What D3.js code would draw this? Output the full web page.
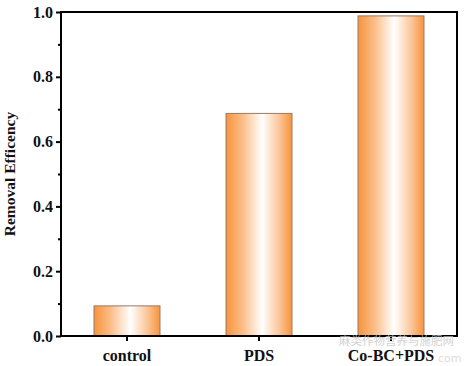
<!DOCTYPE html>
<html><head><meta charset="utf-8">
<script src="https://cdn.jsdelivr.net/npm/d3@7"></script>
<style>body{margin:0;background:#fff}svg{display:block}</style>
</head><body>
<svg id="c" width="464" height="366"></svg>
<script>
const categories = ["control", "PDS", "Co-BC+PDS"];
const values = [0.093, 0.687, 0.988];
const yTicks = [0.0, 0.2, 0.4, 0.6, 0.8, 1.0];
const yMinorTicks = [0.1, 0.3, 0.5, 0.7, 0.9];
const yLabel = "Removal Efficency";

const svg = d3.select("#c");
const L = 61, R = 457, T = 12, B = 336;
const x = d3.scaleBand().domain(categories).range([L, R]).paddingInner(0.5).paddingOuter(0.25);
const y = d3.scaleLinear().domain([0, 1]).range([B, T]);

const defs = svg.append("defs");
const g = defs.append("linearGradient").attr("id", "grad").attr("x1", "0%").attr("x2", "100%").attr("y1", "0%").attr("y2", "0%");
[[0, "#f7943c"], [0.25, "#fbbd88"], [0.55, "#ffffff"], [0.8, "#fcc79c"], [1, "#f7943c"]].forEach(([o, c]) =>
  g.append("stop").attr("offset", o).attr("stop-color", c));

svg.selectAll("rect.bar").data(values).enter().append("rect").attr("class", "bar")
  .attr("x", (d, i) => x(categories[i]))
  .attr("width", x.bandwidth())
  .attr("y", d => y(d))
  .attr("height", d => B - y(d))
  .attr("fill", "url(#grad)")
  .attr("stroke", "#9a7a66").attr("stroke-width", 1);

const font = "'Liberation Serif','Times New Roman',serif";

// frame
svg.append("rect").attr("x", L).attr("y", T).attr("width", R - L).attr("height", B - T)
  .attr("fill", "none").attr("stroke", "#000").attr("stroke-width", 2);

// y axis
const ya = svg.append("g").attr("transform", `translate(${L},0)`)
  .call(d3.axisLeft(y).tickValues(yTicks).tickFormat(d3.format(".1f")).tickSize(5).tickPadding(3));
ya.select(".domain").remove();
ya.selectAll(".tick line").attr("stroke-width", 2);
ya.selectAll("text").attr("font-family", font).attr("font-weight", "bold").attr("font-size", 16).attr("fill", "#111");
const ym = svg.append("g").attr("transform", `translate(${L},0)`)
  .call(d3.axisLeft(y).tickValues(yMinorTicks).tickFormat("").tickSize(3));
ym.select(".domain").remove();
ym.selectAll(".tick line").attr("stroke-width", 2);

// x axis
const xa = svg.append("g").attr("transform", `translate(0,${B})`)
  .call(d3.axisBottom(x).tickSize(5).tickPadding(9));
xa.select(".domain").remove();
xa.selectAll(".tick line").attr("stroke-width", 2);
xa.selectAll("text").attr("font-family", font).attr("font-weight", "bold").attr("font-size", 16).attr("fill", "#111");

svg.append("text").attr("transform", `translate(15,${(T + B) / 2}) rotate(-90)`)
  .attr("text-anchor", "middle").attr("font-family", font).attr("font-weight", "bold")
  .attr("font-size", 15.5).attr("fill", "#111").text(yLabel);

// watermark
svg.append("text").attr("x", 339).attr("y", 345).attr("font-family", "'Noto Sans CJK SC'")
  .attr("font-size", 11.5).attr("fill", "#c8c8c8").attr("opacity", 0.8).text("麻类作物营养与施肥网");
svg.append("text").attr("x", 438).attr("y", 362).attr("font-family", "'DejaVu Sans'")
  .attr("font-size", 11).attr("fill", "#d0d0d0").attr("opacity", 0.7).text("com");
</script>
</body></html>
